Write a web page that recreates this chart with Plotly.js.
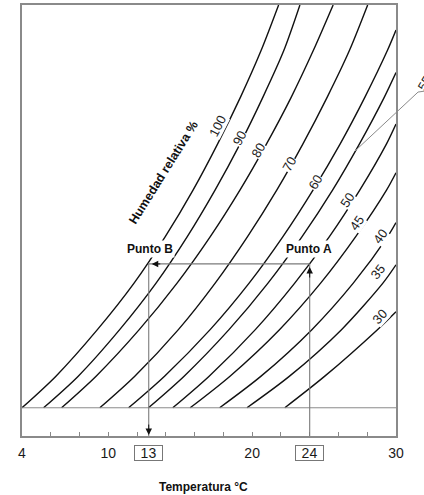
<!DOCTYPE html>
<html>
<head>
<meta charset="utf-8">
<script src="https://cdn.plot.ly/plotly-3.0.1.min.js"></script>
<style>html,body{margin:0;padding:0;background:#fff;}#chart{width:424px;height:495px;}</style>
</head>
<body>
<div id="chart"></div>
<script>
// Relative humidity curves: temperature (°C) vs absolute humidity (g/m³)
const rhLabels = ['100', '90', '80', '70', '60', '55', '50', '45', '40', '35', '30'];

const temp100 = [4.0, 6.36, 9.24, 11.79, 13.96, 15.89, 17.61, 19.19, 20.62, 21.84];
const hum100  = [5.98, 7, 8.5, 10, 11.5, 13, 14.5, 16, 17.5, 18.97];
const temp90  = [5.5, 7.91, 10.79, 13.32, 15.49, 17.42, 19.17, 20.75, 22.2, 23.32];
const hum90   = [5.98, 7, 8.5, 10, 11.5, 13, 14.5, 16, 17.5, 18.97];
const temp80  = [6.75, 9.15, 12.15, 14.78, 17.09, 19.15, 21.01, 22.72, 24.25, 25.63];
const hum80   = [5.98, 7, 8.5, 10, 11.5, 13, 14.5, 16, 17.5, 18.97];
const temp70  = [9.41, 11.84, 14.87, 17.43, 19.68, 21.71, 23.54, 25.22, 26.76, 28.03];
const hum70   = [5.98, 7, 8.5, 10, 11.5, 13, 14.5, 16, 17.5, 18.97];
const temp60  = [11.41, 13.91, 17.08, 19.79, 22.14, 24.23, 26.13, 27.84, 29.4, 30];
const hum60   = [5.98, 7, 8.5, 10, 11.5, 13, 14.5, 16, 17.5, 18.16];
const temp55  = [12.79, 15.27, 18.39, 21.1, 23.47, 25.59, 27.47, 29.19, 30];
const hum55   = [5.98, 7, 8.5, 10, 11.5, 13, 14.5, 16, 16.79];
const temp50  = [14.48, 17.01, 20.22, 22.96, 25.37, 27.48, 29.35, 30];
const hum50   = [5.98, 7, 8.5, 10, 11.5, 13, 14.5, 15.13];
const temp45  = [15.69, 18.46, 21.9, 24.76, 27.2, 29.34, 30];
const hum45   = [5.98, 7, 8.5, 10, 11.5, 13, 13.56];
const temp40  = [17.74, 20.62, 24.15, 27.03, 29.42, 30];
const hum40   = [5.98, 7, 8.5, 10, 11.5, 11.95];
const temp35  = [19.64, 22.6, 26.21, 29.09, 30];
const hum35   = [5.98, 7, 8.5, 10, 10.59];
const temp30  = [22.27, 25.05, 28.71, 30];
const hum30   = [5.98, 7, 8.5, 9.08];

// label positions on the curves (temperature, humidity) and rotation
const labelTemp  = [17.63, 19.09, 20.41, 22.56, 24.37, 26.59, 27.32, 28.89, 28.78, 28.89];
const labelHum   = [15.07, 14.68, 14.29, 13.84, 13.26, 12.68, 11.94, 11.51, 10.36, 8.91];
const labelText  = ['100', '90', '80', '70', '60', '50', '45', '40', '35', '30'];
const labelAngle = [-63, -62, -60, -60, -59, -57, -56, -54, -52, -48];

// x axis ticks
const tickValues = [4, 6, 8, 10, 12, 14, 16, 18, 20, 22, 24, 26, 28, 30];
const tickLabels = ['4', '', '', '10', '', '', '', '', '20', '', '', '', '', '30'];

// process points
const puntoA_T = 24, puntoB_T = 12.81, punto_H = 10.62;
const baseHum = 5.98;
const yMin = 5.07, yMax = 18.97;

const FONT = 'Arial, "Liberation Sans", Helvetica, sans-serif';

const curveT = [temp100, temp90, temp80, temp70, temp60, temp55, temp50, temp45, temp40, temp35, temp30];
const curveH = [hum100, hum90, hum80, hum70, hum60, hum55, hum50, hum45, hum40, hum35, hum30];

const traces = curveT.map((t, i) => ({
  x: t, y: curveH[i], type: 'scatter', mode: 'lines', name: rhLabels[i] + ' %',
  line: {color: '#111', width: 1.4, shape: 'spline', smoothing: 0.8},
  hoverinfo: 'skip'
}));

const C = {xanchor: 'center', yanchor: 'middle'};
const annotations = [];
labelText.forEach((txt, i) => {
  annotations.push(Object.assign({
    x: labelTemp[i], y: labelHum[i], xref: 'x', yref: 'y', text: txt, showarrow: false,
    textangle: labelAngle[i], bgcolor: '#fff', borderpad: 0,
    font: {family: FONT, size: 13, color: '#222'}
  }, C));
});
// 55 label, at the right edge of the page (cut by the edge as in the original)
annotations.push(Object.assign({
  x: 1.077, y: 0.817, xref: 'paper', yref: 'paper', text: '55', showarrow: false,
  textangle: -60, font: {family: FONT, size: 13, color: '#222'}
}, C));
annotations.push(Object.assign({
  x: 13.87, y: 13.58, xref: 'x', yref: 'y', text: '<b>Humedad relativa %</b>', showarrow: false,
  textangle: -58, font: {family: FONT, size: 12.5, color: '#111'}
}, C));
annotations.push(Object.assign({
  x: 12.93, y: 11.1, xref: 'x', yref: 'y', text: '<b>Punto B</b>', showarrow: false,
  bgcolor: '#fff', borderpad: 1, font: {family: FONT, size: 12, color: '#111'}
}, C));
annotations.push(Object.assign({
  x: 23.92, y: 11.09, xref: 'x', yref: 'y', text: '<b>Punto A</b>', showarrow: false,
  bgcolor: '#fff', borderpad: 1, font: {family: FONT, size: 12, color: '#111'}
}, C));
// boxed temperature labels
[[puntoB_T, '13'], [puntoA_T, '24']].forEach(([t, s]) => {
  annotations.push(Object.assign({
    x: t, y: -0.0405, xref: 'x', yref: 'paper', text: s, showarrow: false,
    bordercolor: '#777', borderwidth: 1, borderpad: 0, width: 27, height: 14, bgcolor: '#fff',
    font: {family: FONT, size: 14, color: '#1a1a1a'}
  }, C));
});
annotations.push(Object.assign({
  x: 0.4866, y: -0.119, xref: 'paper', yref: 'paper', text: '<b>Temperatura °C</b>', showarrow: false,
  font: {family: FONT, size: 12, color: '#111'}
}, C));
// arrowheads
annotations.push({x: 13.02, y: punto_H, xref: 'x', yref: 'y', ax: 10, ay: 0, text: '', showarrow: true,
  arrowhead: 2, arrowsize: 1.3, arrowwidth: 1, arrowcolor: '#111'});
annotations.push({x: puntoA_T, y: 10.52, xref: 'x', yref: 'y', ax: 0, ay: 12, text: '', showarrow: true,
  arrowhead: 2, arrowsize: 1.3, arrowwidth: 1, arrowcolor: '#111'});
annotations.push({x: puntoB_T, y: 5.1, xref: 'x', yref: 'y', ax: 0, ay: -12, text: '', showarrow: true,
  arrowhead: 2, arrowsize: 1.3, arrowwidth: 1, arrowcolor: '#111'});

const shapes = [
  {type: 'line', xref: 'paper', yref: 'y', x0: 0, x1: 1, y0: baseHum, y1: baseHum,
   line: {color: '#8a8a8a', width: 1}},
  {type: 'line', xref: 'x', yref: 'y', x0: puntoA_T, x1: puntoA_T, y0: yMin, y1: punto_H,
   line: {color: '#7a7a7a', width: 1.1}},
  {type: 'line', xref: 'x', yref: 'y', x0: puntoB_T, x1: puntoA_T, y0: punto_H, y1: punto_H,
   line: {color: '#7a7a7a', width: 1.1}},
  {type: 'line', xref: 'x', yref: 'y', x0: puntoB_T, x1: puntoB_T, y0: punto_H, y1: yMin,
   line: {color: '#7a7a7a', width: 1.1}},
  // leader line for 55 %
  {type: 'line', xref: 'paper', yref: 'paper', x0: 0.8904, y0: 0.6613, x1: 1.059, y1: 0.798,
   line: {color: '#8a8a8a', width: 1}},
  {type: 'line', xref: 'paper', yref: 'paper', x0: 1.059, y0: 0.798, x1: 1.075, y1: 0.80,
   line: {color: '#8a8a8a', width: 1}}
];

const layout = {
  width: 424, height: 495,
  margin: {l: 22, r: 28, t: 5, b: 59, pad: 0},
  paper_bgcolor: '#fff', plot_bgcolor: '#fff',
  showlegend: false,
  font: {family: FONT},
  xaxis: {
    range: [4, 30], tickvals: tickValues, ticktext: tickLabels,
    ticks: 'inside', ticklen: 4, tickwidth: 1, tickcolor: '#888',
    showline: true, mirror: true, linecolor: '#8a8a8a', linewidth: 2,
    showgrid: false, zeroline: false, ticklabelstandoff: 3,
    tickfont: {family: FONT, size: 14, color: '#1a1a1a'}
  },
  yaxis: {
    range: [yMin, yMax], showticklabels: false, ticks: '',
    showline: true, mirror: true, linecolor: '#8a8a8a', linewidth: 2,
    showgrid: false, zeroline: false
  },
  annotations: annotations,
  shapes: shapes
};

Plotly.newPlot('chart', traces, layout, {displayModeBar: false, staticPlot: true});
</script>
</body>
</html>
